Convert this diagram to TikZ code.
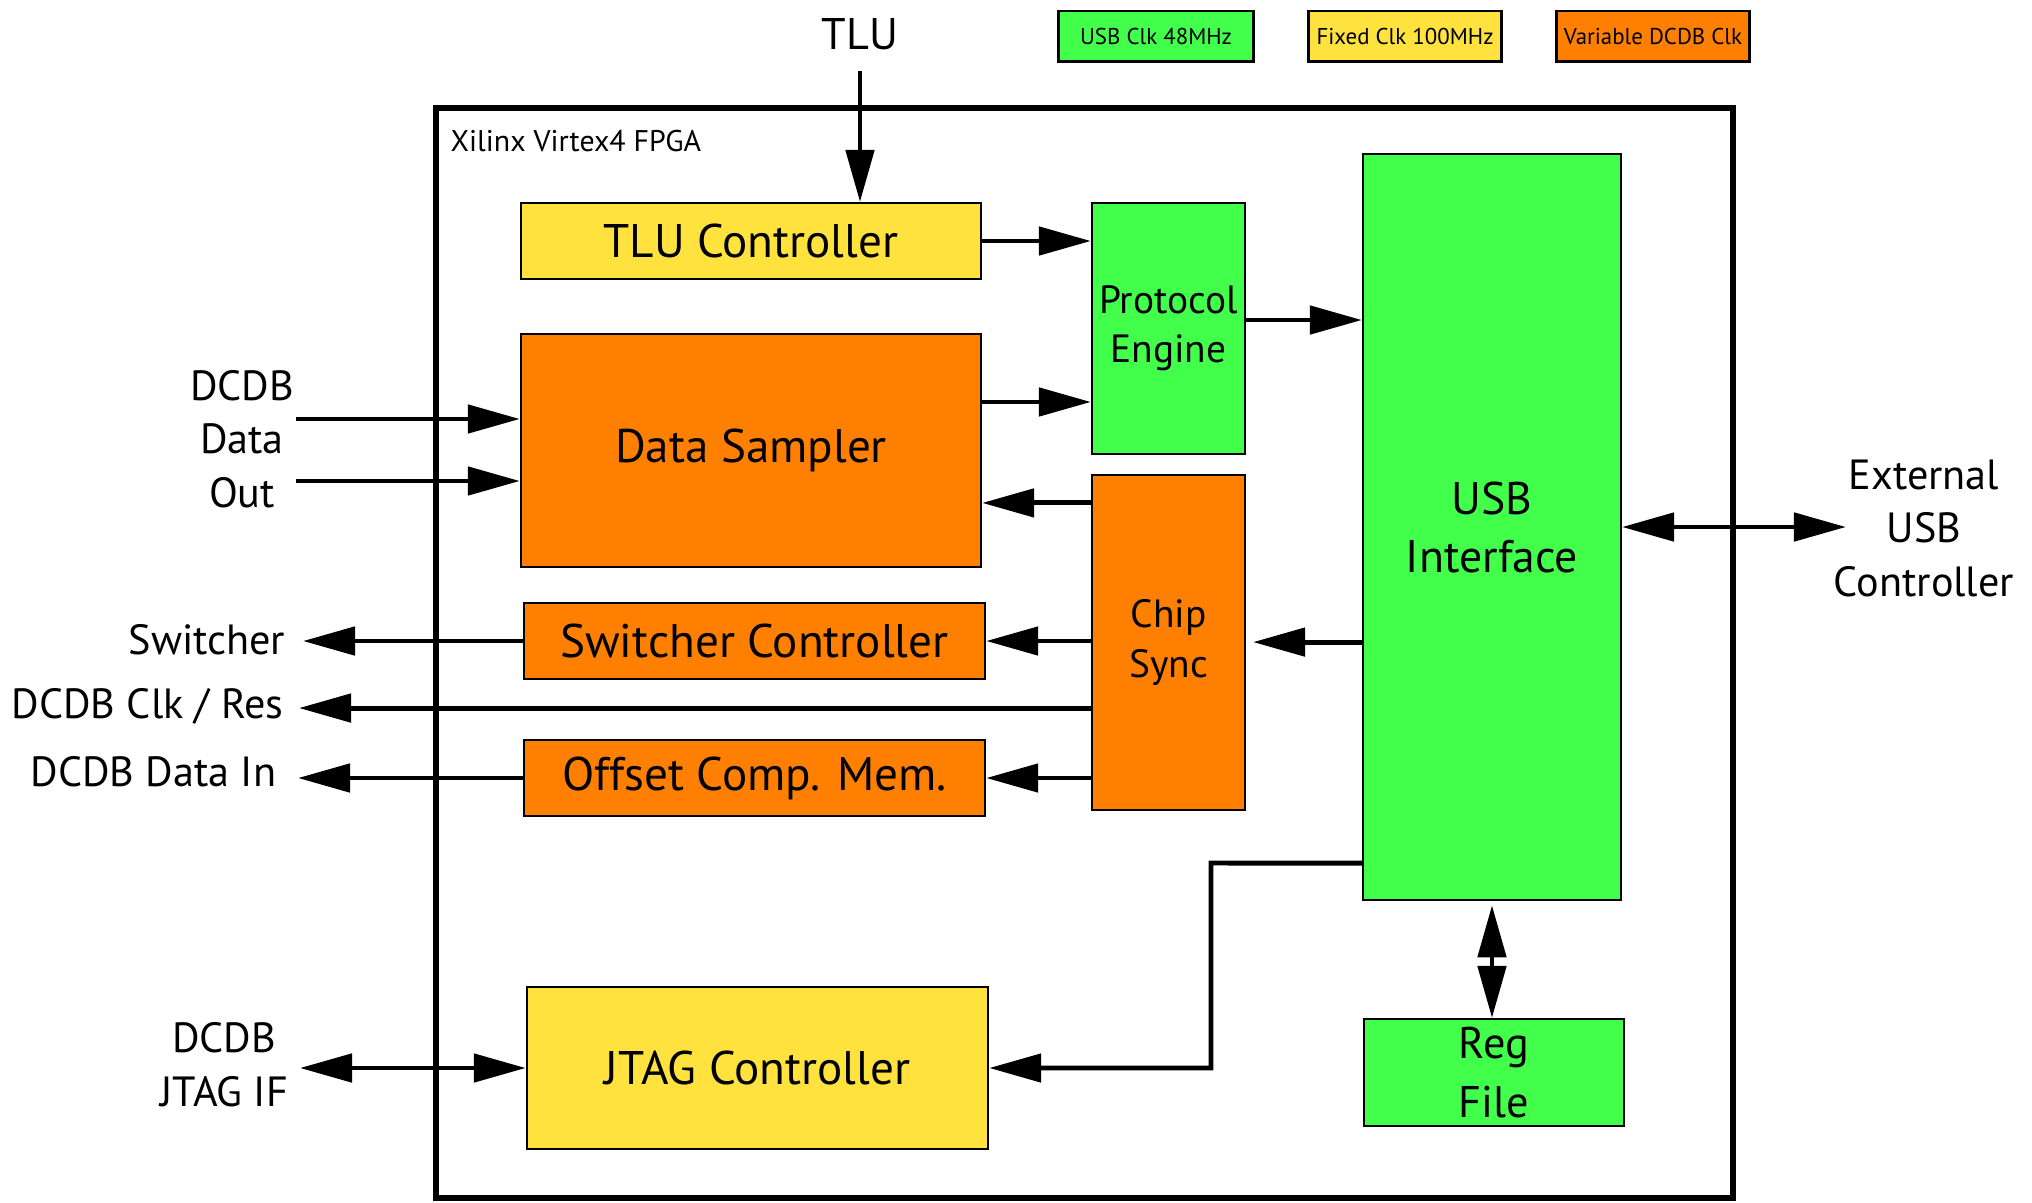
\documentclass[tikz,border=0pt]{standalone}
\usepackage{fontspec}
\setmainfont{PT Sans}
\usetikzlibrary{arrows.meta,calc}
\definecolor{cgreen}{RGB}{66,255,76}
\definecolor{cyellow}{RGB}{255,226,62}
\definecolor{corange}{RGB}{255,128,0}
\begin{document}
\begin{tikzpicture}[x=0.01cm,y=-0.01cm,
  box/.style={draw=black, line width=0.6pt, inner sep=0pt, align=center},
  leg/.style={draw=black, line width=0.85pt, inner sep=0pt, minimum height=0.5cm, font=\fontsize{6.5}{8}\selectfont},
  arr/.style={line width=1.4pt, -{Triangle[length=0.52cm,width=0.28cm]}},
  darr/.style={line width=1.4pt, {Triangle[length=0.52cm,width=0.28cm]}-{Triangle[length=0.52cm,width=0.28cm]}},
  bigf/.style={font=\fontsize{13.4}{16.5}\selectfont},
  midf/.style={font=\fontsize{11.2}{14}\selectfont},
  usbf/.style={font=\fontsize{13}{16.5}\selectfont},
  regf/.style={font=\fontsize{12.6}{16.8}\selectfont},
  lbl/.style={inner sep=0pt, align=center, font=\fontsize{12}{15.2}\selectfont}]
\useasboundingbox (0,0) rectangle (2032,1202);
% FPGA frame
\node[draw, line width=1.7pt, inner sep=0pt, minimum width=12.97cm, minimum height=10.9cm] (fpga) at (1084.5,653) {};
\node[anchor=base west, inner sep=0pt, font=\fontsize{8.5}{10}\selectfont] (xil) at (450,151) {Xilinx Virtex4 FPGA};
% legend
\node[leg, fill=cgreen, minimum width=1.94cm] (l1) at (1156,36) {USB Clk 48MHz};
\node[leg, fill=cyellow, minimum width=1.93cm] (l2) at (1405,36) {Fixed Clk 100MHz};
\node[leg, fill=corange, minimum width=1.93cm] (l3) at (1653,36) {Variable DCDB Clk};
% blocks
\node[box, fill=cyellow, minimum width=4.6cm, minimum height=0.76cm, bigf] (tlu) at (751,241) {TLU Controller};
\node[box, fill=corange, minimum width=4.6cm, minimum height=2.33cm, bigf] (ds) at (751,450.5) {Data Sampler};
\node[box, fill=cgreen, minimum width=1.53cm, minimum height=2.51cm, midf] (pe) at (1168.5,328.5) {Protocol\\Engine};
\node[box, fill=corange, minimum width=1.53cm, minimum height=3.35cm, midf] (cs) at (1168.5,642.5) {Chip\\Sync};
\node[box, fill=cgreen, minimum width=2.58cm, minimum height=7.46cm, usbf] (usb) at (1492,527) {USB\\Interface};
\node[box, fill=corange, minimum width=4.61cm, minimum height=0.76cm, bigf] (sw) at (754.5,641) {Switcher Controller};
\node[box, fill=corange, minimum width=4.61cm, minimum height=0.76cm, bigf] (ocm) at (754.5,778) {Offset Comp. Mem.};
\node[box, fill=cyellow, minimum width=4.61cm, minimum height=1.62cm, bigf] (jtag) at (757.5,1068) {JTAG Controller};
\node[box, fill=cgreen, minimum width=2.6cm, minimum height=1.07cm, regf] (reg) at (1494,1072.5) {Reg\\File};
% outside labels
\node[lbl, anchor=base, font=\fontsize{12.6}{15}\selectfont] (tlulbl) at (860,49) {TLU};
\node[lbl, anchor=base] (dout) at (242,507) {DCDB\\Data\\Out};
\node[lbl, anchor=base east] (swl) at (286,654) {Switcher};
\node[lbl, anchor=base east] (clk) at (284,718) {DCDB Clk / Res};
\node[lbl, anchor=base east] (din) at (277,786) {DCDB Data In};
\node[lbl, anchor=base] (jtl) at (224,1106) {DCDB\\JTAG IF};
\node[lbl, anchor=base] (ext) at (1924,596) {External\\USB\\Controller};
% connectors
\coordinate (tluin) at (860,71);
\draw[arr] (tluin) -- (tluin |- tlu.north);
\draw[arr] (tlu.east) -- (tlu.east -| pe.west);
\coordinate (dsp) at ([yshift=0.485cm]ds.east);
\draw[arr] (dsp) -- (dsp -| pe.west);
\coordinate (peu) at ([yshift=0.085cm]pe.east);
\draw[arr] (peu) -- (peu -| usb.west);
\coordinate (csd) at ([yshift=1.395cm]cs.west);
\draw[arr] (csd) -- (csd -| ds.east);
\coordinate (ucs) at ([yshift=-1.15cm]usb.west);
\draw[arr, shorten >=0.07cm] (ucs) -- (ucs -| cs.east);
\draw[arr] (cs.west |- sw.east) -- (sw.east);
\draw[arr] (cs.west |- ocm.east) -- (ocm.east);
\coordinate (swend) at (303,641);
\draw[arr] (sw.west) -- (swend);
\coordinate (clkA) at ([yshift=-0.655cm]cs.west);
\coordinate (clkend) at (299,708);
\draw[arr] (clkA) -- (clkA -| clkend);
\coordinate (dinend) at (298,778);
\draw[arr] (ocm.west) -- (dinend);
\coordinate (do1) at (296,419);
\coordinate (do2) at (296,481);
\draw[arr] (do1) -- (do1 -| ds.west);
\draw[arr] (do2) -- (do2 -| ds.west);
\coordinate (jt) at (300,1068);
\draw[darr] (jt) -- (jtag.west);
\coordinate (uj) at ([yshift=-3.36cm]usb.west);
\coordinate (ujc) at (1211,863);
\draw[arr] (uj) -- (ujc) |- (jtag.east);
\coordinate (extend) at (1846,527);
\draw[darr] (usb.east) -- (extend);
\draw[darr, shorten <=0.04cm] (usb.south) -- (usb.south |- reg.north);
\end{tikzpicture}
\end{document}
